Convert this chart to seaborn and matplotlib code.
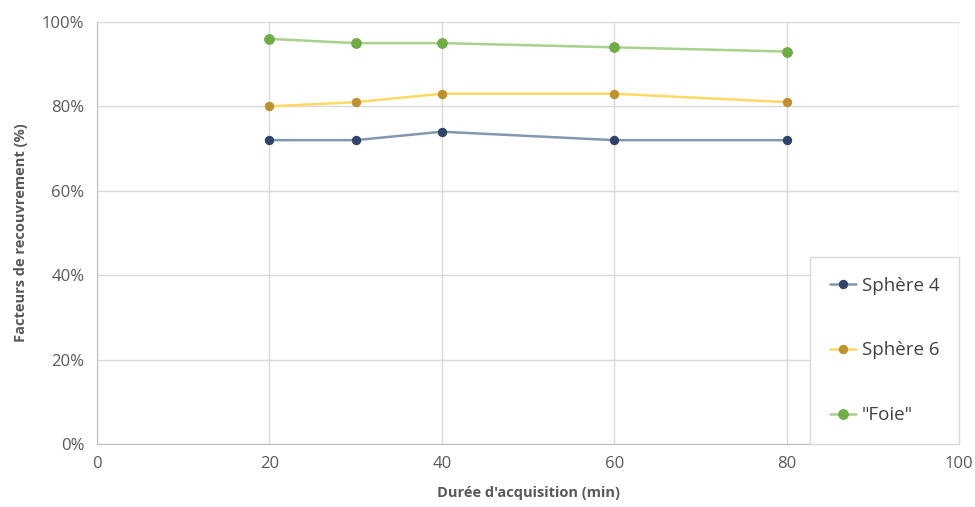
import matplotlib
matplotlib.use("Agg")
import matplotlib.pyplot as plt
import seaborn as sns
import pandas as pd
from matplotlib.ticker import PercentFormatter

durees = [20, 30, 40, 60, 80]
sphere4 = [72, 72, 74, 72, 72]
sphere6 = [80, 81, 83, 83, 81]
foie = [96, 95, 95, 94, 93]

series = [
    ("Sphère 4", sphere4, "#8497B0", "#2F4468"),
    ("Sphère 6", sphere6, "#FFD966", "#BF9030"),
    ('"Foie"', foie, "#A9D18E", "#70AD47"),
]

sns.set_style("white")
plt.rcParams["font.family"] = ["Open Sans", "DejaVu Sans"]

fig = plt.figure(figsize=(9.75, 5.07), dpi=100)
ax = fig.add_axes([0.0995, 0.1243, 0.8841, 0.8323])

for nom, vals, lc, mc in series:
    df = pd.DataFrame({"x": durees, "y": vals})
    msize = 7 if nom == '"Foie"' else 6
    sns.lineplot(data=df, x="x", y="y", ax=ax, color=lc, linewidth=1.8,
                 marker="o", markersize=msize, markerfacecolor=mc,
                 markeredgecolor=mc, label=nom)

ax.set_xlim(0, 100)
ax.set_ylim(0, 100)
ax.set_xticks(range(0, 101, 20))
ax.set_yticks(range(0, 101, 20))
ax.yaxis.set_major_formatter(PercentFormatter(decimals=0))
ax.grid(True, color="#D9D9D9", linewidth=1)
ax.set_axisbelow(True)
for s in ["top", "right"]:
    ax.spines[s].set_visible(False)
for s in ["left", "bottom"]:
    ax.spines[s].set_color("#BFBFBF")
ax.tick_params(axis="both", length=0, labelsize=12, colors="#595959", pad=9)

ax.set_xlabel("Durée d'acquisition (min)", fontsize=10.5, fontweight="bold",
              color="#595959", labelpad=10)
ax.set_ylabel("Facteurs de recouvrement (%)", fontsize=10.5, fontweight="bold",
              color="#595959", labelpad=10)

leg = ax.legend(loc="lower right", bbox_to_anchor=(1.0, 0.0), fontsize=13.5,
                labelspacing=2.5, handlelength=1.4, handletextpad=0.3,
                borderpad=1.05, borderaxespad=0, fancybox=False, framealpha=1,
                edgecolor="#D9D9D9")
for t in leg.get_texts():
    t.set_color("#404040")

fig.savefig("out.png", dpi=100)
